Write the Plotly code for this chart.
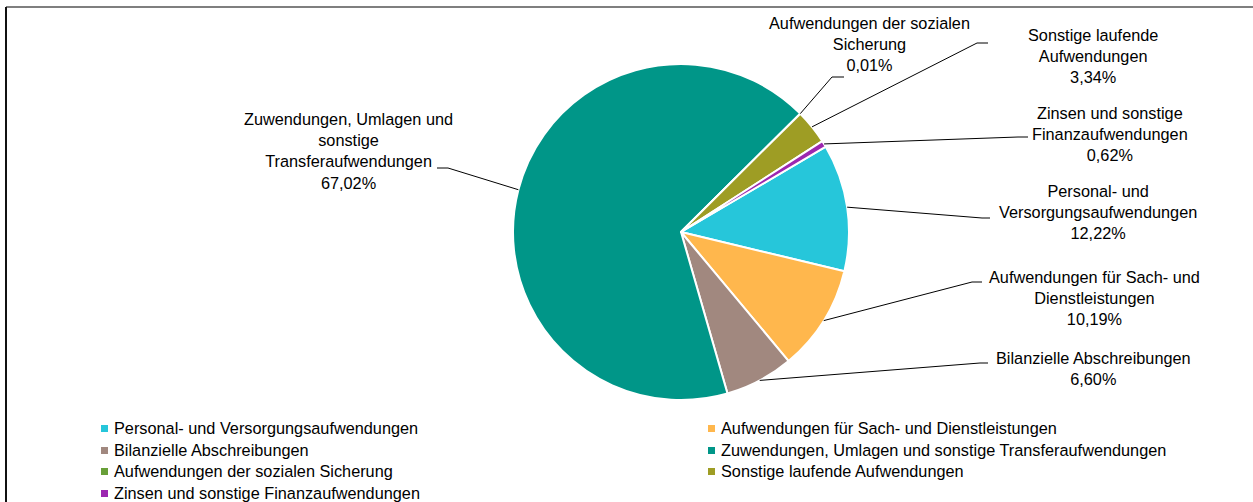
import math
import plotly.graph_objects as go

# ---- data ----
categories = [
    "Personal- und Versorgungsaufwendungen",
    "Aufwendungen für Sach- und Dienstleistungen",
    "Bilanzielle Abschreibungen",
    "Zuwendungen, Umlagen und sonstige Transferaufwendungen",
    "Aufwendungen der sozialen Sicherung",
    "Sonstige laufende Aufwendungen",
    "Zinsen und sonstige Finanzaufwendungen",
]
shares = [12.22, 10.19, 6.60, 67.02, 0.01, 3.34, 0.62]
label_text = [
    "Personal- und<br>Versorgungsaufwendungen",
    "Aufwendungen für Sach- und<br>Dienstleistungen",
    "Bilanzielle Abschreibungen",
    "Zuwendungen, Umlagen und<br>sonstige<br>Transferaufwendungen",
    "Aufwendungen der sozialen<br>Sicherung",
    "Sonstige laufende<br>Aufwendungen",
    "Zinsen und sonstige<br>Finanzaufwendungen",
]
colors = ["#26C6DA", "#FFB74D", "#A1887F", "#009688", "#689F38", "#9E9D24", "#9C27B0"]

# ---- layout constants (pixels) ----
W, H = 1253, 502
CX, CY, R = 681, 232, 168
ROT = 59.5
FONT = "Liberation Sans, Arial, sans-serif"
FS = 16.3

# label block centres, elbow and end of leader lines (px)
lab_pos = [(1098, 212), (1094, 298), (1093, 368), (348, 151), (870, 44), (1093, 56), (1110, 134)]
elbow = [(982, 218), (972, 282), (980, 363), (448, 168), (832, 77), (977, 43), (1018, 137)]
stub_end = [(990, 218), (982, 282), (988, 363), (437, 168), (844, 77), (988, 43), (1028, 137)]

def px(x):
    return x / W

def py(y):
    return 1 - y / H

fig = go.Figure(go.Pie(
    labels=categories,
    values=shares,
    sort=False,
    direction="clockwise",
    rotation=ROT,
    marker=dict(colors=colors, line=dict(color="white", width=2)),
    textinfo="none",
    hovertemplate="%{label}: %{value:.2f}%<extra></extra>",
    domain=dict(x=[px(CX - R), px(CX + R)], y=[py(CY + R), py(CY - R)]),
    showlegend=False,
))

annotations = []
shapes = []
total = sum(shares)
cum = 0.0
for i, v in enumerate(shares):
    mid = cum + v / 2
    cum += v
    ang = math.radians(ROT + 360 * mid / total)
    ex, ey = CX + R * math.sin(ang), CY - R * math.cos(ang)
    bx, by = elbow[i]
    sx, sy = stub_end[i]
    shapes.append(dict(
        type="path", xref="paper", yref="paper",
        path=f"M {px(ex)},{py(ey)} L {px(bx)},{py(by)} L {px(sx)},{py(sy)}",
        line=dict(color="black", width=1),
    ))
    pct = f"{v:.2f}".replace(".", ",") + "%"
    lx, ly = lab_pos[i]
    annotations.append(dict(
        x=px(lx), y=py(ly), xref="paper", yref="paper",
        text=label_text[i] + "<br>" + pct, showarrow=False,
        xanchor="center", yanchor="middle", align="center",
        font=dict(family=FONT, size=FS, color="#000000"),
    ))

# legend (two columns)
leg_text_x = [112, 719]
leg_row_y = [428, 450, 471, 493]
for i, name in enumerate(categories):
    col, row = i % 2, i // 2
    tx, ty = leg_text_x[col], leg_row_y[row]
    shapes.append(dict(
        type="rect", xref="paper", yref="paper",
        x0=px(tx - 11), x1=px(tx - 4), y0=py(ty + 4), y1=py(ty - 3),
        fillcolor=colors[i], line=dict(width=0),
    ))
    annotations.append(dict(
        x=px(tx), y=py(ty), xref="paper", yref="paper",
        text=name, showarrow=False, xanchor="left", yanchor="middle",
        font=dict(family=FONT, size=FS, color="#000000"),
    ))

# frame (top and left edges)
shapes.append(dict(type="line", xref="paper", yref="paper",
                   x0=px(6), x1=1, y0=py(7), y1=py(7),
                   line=dict(color="#555555", width=1.5)))
shapes.append(dict(type="line", xref="paper", yref="paper",
                   x0=px(6), x1=px(6), y0=py(7), y1=0,
                   line=dict(color="#111111", width=2)))

fig.update_layout(
    width=W, height=H,
    margin=dict(l=0, r=0, t=0, b=0),
    paper_bgcolor="white",
    plot_bgcolor="white",
    annotations=annotations,
    shapes=shapes,
    font=dict(family=FONT, size=FS),
)

fig.write_html(
    "out.html",
    config={"displayModeBar": False},
    post_script="document.body.style.margin='0';document.body.style.overflow='hidden';",
)
